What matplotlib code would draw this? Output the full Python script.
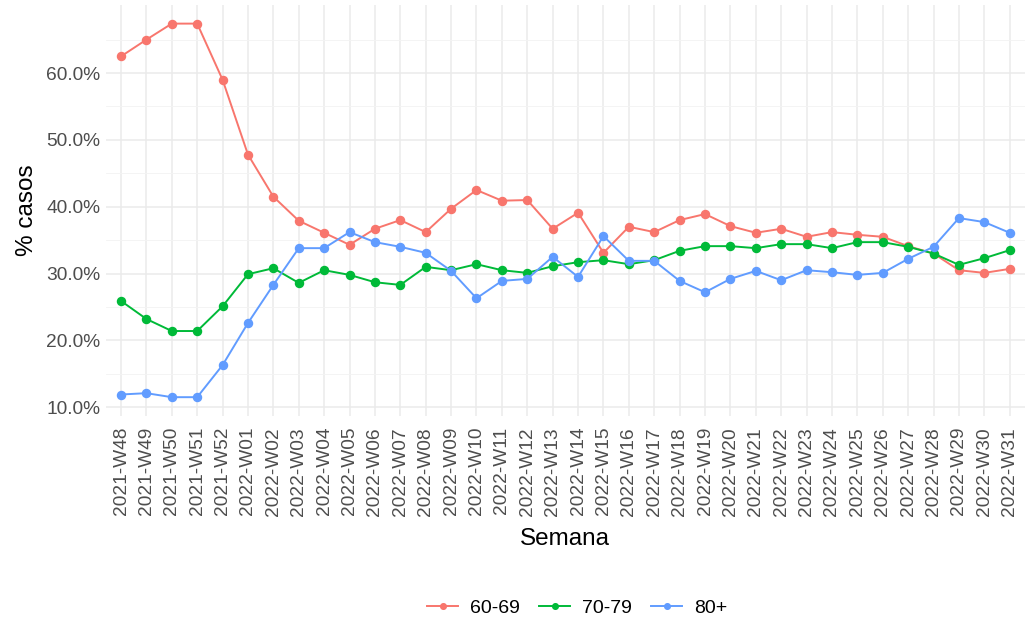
import numpy as np
import matplotlib
matplotlib.use('Agg')
import matplotlib.pyplot as plt
from matplotlib.ticker import FuncFormatter

plt.rcParams['font.family'] = ['Liberation Sans', 'DejaVu Sans']

semanas = ['2021-W48', '2021-W49', '2021-W50', '2021-W51', '2021-W52'] + \
          ['2022-W%02d' % i for i in range(1, 32)]

# % casos por grupo de edad
g60_69 = [62.5, 65.0, 67.4, 67.4, 59.0, 47.8, 41.5, 37.9, 36.1, 34.3, 36.7, 38.0,
          36.2, 39.7, 42.5, 40.9, 41.0, 36.7, 39.1, 33.1, 37.0, 36.2, 38.0, 38.9,
          37.1, 36.1, 36.7, 35.5, 36.2, 35.8, 35.5, 34.1, 33.0, 30.5, 30.1, 30.7]
g70_79 = [25.9, 23.2, 21.4, 21.4, 25.1, 29.9, 30.8, 28.6, 30.5, 29.8, 28.7, 28.3,
          31.0, 30.5, 31.4, 30.5, 30.1, 31.1, 31.7, 32.0, 31.4, 32.0, 33.4, 34.1,
          34.1, 33.8, 34.4, 34.4, 33.8, 34.7, 34.7, 34.0, 33.0, 31.3, 32.3, 33.5]
g80 = [11.9, 12.1, 11.5, 11.5, 16.3, 22.6, 28.3, 33.8, 33.8, 36.2, 34.7, 34.0,
       33.1, 30.4, 26.3, 28.9, 29.2, 32.5, 29.5, 35.6, 31.9, 31.9, 28.9, 27.2,
       29.2, 30.4, 29.0, 30.5, 30.2, 29.8, 30.1, 32.2, 34.0, 38.3, 37.7, 36.1]

series = [('60-69', g60_69, '#F8766D'), ('70-79', g70_79, '#00BA38'), ('80+', g80, '#619CFF')]

fig = plt.figure(figsize=(10.27, 6.17), dpi=100)
ax = fig.add_axes([0.103, 0.326, 0.895, 0.666])

x = np.arange(len(semanas))
for name, vals, col in series:
    ax.plot(x, vals, color=col, lw=1.4, marker='o', ms=5.8, label=name, zorder=3)

allv = np.concatenate([g60_69, g70_79, g80])
lo, hi = allv.min(), allv.max()
pad = (hi - lo) * 0.05
ax.set_ylim(lo - pad, hi + pad)
ax.set_xlim(-0.6, len(semanas) - 0.4)

ax.set_yticks([10, 20, 30, 40, 50, 60])
ax.set_yticks([15, 25, 35, 45, 55, 65], minor=True)
ax.yaxis.set_major_formatter(FuncFormatter(lambda v, p: '%.1f%%' % v))
ax.set_xticks(x)
ax.set_xticklabels(semanas, rotation=90)

ax.grid(True, which='major', color='#EBEBEB', lw=1.1)
ax.grid(True, which='minor', axis='y', color='#F3F3F3', lw=0.6)
ax.set_axisbelow(True)
for s in ax.spines.values():
    s.set_visible(False)
ax.tick_params(which='both', length=0, labelsize=13.8, colors='#4D4D4D', pad=4)
ax.tick_params(axis='x', pad=8)

ax.set_xlabel('Semana', fontsize=17.5, labelpad=9)
ax.set_ylabel('% casos', fontsize=17.5, labelpad=6)

fig.legend(loc='lower center', ncol=3, frameon=False, fontsize=14,
           bbox_to_anchor=(0.562, -0.028), handlelength=1.6, columnspacing=1.0,
           handletextpad=0.6, markerscale=0.7)

fig.savefig('out.png', dpi=100)
